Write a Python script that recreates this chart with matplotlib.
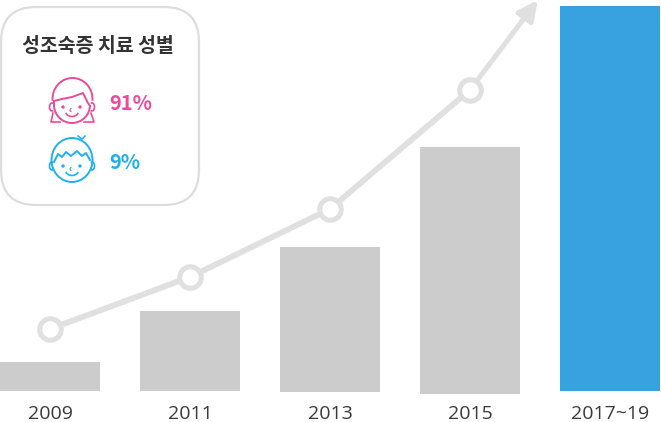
import matplotlib
matplotlib.use("Agg")
import matplotlib.pyplot as plt
import numpy as np
from matplotlib.patches import FancyBboxPatch, Arc, Circle, Ellipse

years = ["2009", "2011", "2013", "2015", "2017~19"]
bar_tops = [29, 80, 144, 244, 385]
bar_bottoms = [0, 0, -1, -3, 0]
bar_colors = ["#cccccc", "#cccccc", "#cccccc", "#cccccc", "#38a1df"]
trend = [62, 114, 182, 301]
trend_end = (3.485, 391)
title = "성조숙증 치료 성별"
girl_share = "91%"
boy_share = "9%"

W, H = 661, 422
fig = plt.figure(figsize=(W/100, H/100), dpi=100, facecolor="white")
ax = fig.add_axes([0, (H-394)/H, 1, 394/H])
ax.set_xlim(-50/140, (W-50)/140)
ax.set_ylim(-3, 391)
for s in ax.spines.values():
    s.set_visible(False)
x = np.arange(len(years))
xt = x[:len(trend)]
ax.bar(x, np.array(bar_tops)-np.array(bar_bottoms), width=100/140, bottom=bar_bottoms,
       color=bar_colors, zorder=1)
ax.set_xticks(x, years, fontsize=14, color="#3a3a3a", family="Open Sans")
ax.tick_params(axis="x", length=0, pad=8)
ax.set_yticks([])
grey = "#e0e0e0"
ax.plot(xt, trend, color=grey, lw=4.2, zorder=2, solid_capstyle="butt")
ax.annotate("", xy=trend_end, xytext=(xt[-1], trend[-1]),
            arrowprops=dict(arrowstyle="-|>,head_length=0.85,head_width=0.42", color=grey, lw=3.6,
                            shrinkA=0, shrinkB=0, mutation_scale=14), zorder=2)
ax.plot(xt, trend, ls="none", marker="o", ms=15.5, mfc="white", mec=grey, mew=3.6, zorder=3)

ov = fig.add_axes([0, 0, 1, 1])
ov.set_xlim(0, W); ov.set_ylim(H, 0); ov.axis("off"); ov.patch.set_alpha(0)
r = 35
ov.add_patch(FancyBboxPatch((1+r, 7+r), 198-2*r, 198-2*r, boxstyle=f"round,pad={r},rounding_size={r}",
                            fc="white", ec="#dddddd", lw=1.6, zorder=4))
ov.text(98, 46.5, title, ha="center", va="center", fontsize=14, color="#333333",
        family="Noto Sans CJK KR", fontweight="bold", zorder=5)
pink = "#ec4a9c"; blue = "#1fb0ee"
ov.text(109, 101.5, girl_share, ha="left", va="center_baseline", fontsize=14.5, color=pink,
        family="Noto Sans CJK KR", fontweight="bold", zorder=5)
ov.text(109, 160.5, boy_share, ha="left", va="center_baseline", fontsize=14.5, color=blue,
        family="Noto Sans CJK KR", fontweight="bold", zorder=5)

def features(cy, c):
    lw = 1.2
    for ex in (63, 80):
        ov.add_patch(Circle((ex, cy), 1.7, fc=c, ec="none", zorder=6))
    ov.add_patch(Arc((71.5, cy+3), 3, 3, theta1=90, theta2=270, ec=c, lw=.8, zorder=6))
    ov.add_patch(Arc((72, cy+3), 14, 13, theta1=25, theta2=155, ec=c, lw=lw, zorder=6))
    for ex, t1, t2 in ((52, 70, 290), (92, -110, 110)):
        ov.add_patch(Arc((ex, cy), 5, 8, theta1=t1, theta2=t2, ec=c, lw=lw, zorder=6))

lw = 1.4
ov.add_patch(Arc((72.5, 99), 40, 42, theta1=175, theta2=365, ec=pink, lw=lw, zorder=6))
ov.add_patch(Arc((72, 105), 36, 36, theta1=0, theta2=180, ec=pink, lw=lw, zorder=6))
ov.plot([54, 62, 72, 83, 85, 88, 90], [101, 99, 97, 93, 97, 103, 106], color=pink, lw=lw, zorder=6)
ov.plot([54, 54], [101, 106], color=pink, lw=lw, zorder=6)
ov.plot([53, 51, 60], [113, 122, 122], color=pink, lw=1.2, zorder=6)
ov.plot([91, 94, 84], [113, 122, 122], color=pink, lw=1.2, zorder=6)
features(107, pink)
ov.add_patch(Ellipse((72, 160), 41, 44, fc="none", ec=blue, lw=lw, zorder=6))
ov.plot([54, 58, 62, 66, 71, 77, 82, 86, 90], [162, 154, 157, 152, 156, 151, 156, 153, 160],
        color=blue, lw=lw, zorder=6)
ov.plot([78, 82, 85], [136, 139, 136], color=blue, lw=1.1, zorder=6)
features(166, blue)

fig.savefig("out.png", dpi=100)
